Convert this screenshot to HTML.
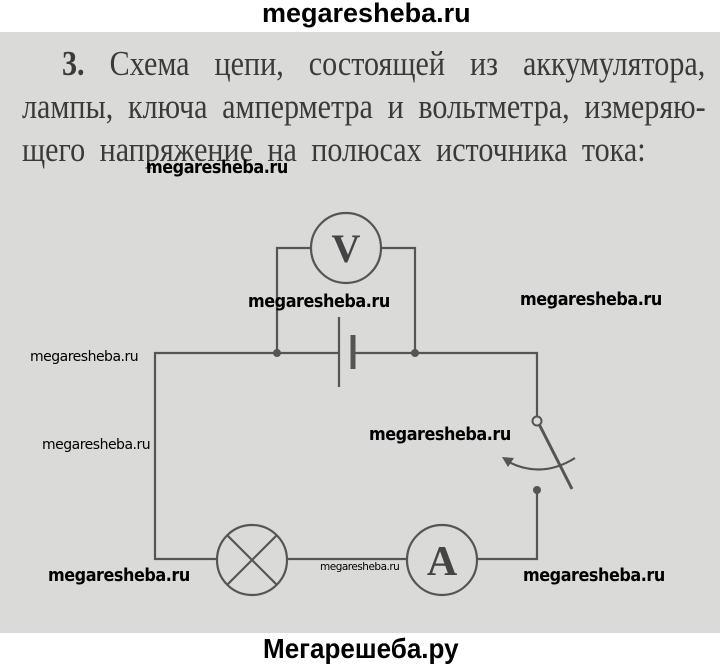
<!DOCTYPE html>
<html><head><meta charset="utf-8"><style>
body{margin:0;width:720px;height:666px;background:#fff;position:relative;overflow:hidden;font-family:"Liberation Sans",sans-serif}
.g{position:absolute;left:0;top:32px;width:720px;height:601px;background:#dadad8}
.t{position:absolute;left:0;top:0;width:720px;height:666px}
.w{position:absolute;font-family:"DejaVu Sans",sans-serif;font-weight:bold;color:#000;white-space:nowrap;letter-spacing:-0.5px;transform-origin:0 0}
.b{font-size:18px;transform:scaleX(0.89)}
.ln{position:absolute;font-family:"Liberation Serif",serif;font-size:35px;color:#3a3a3a;white-space:nowrap;transform-origin:0 0;transform:scaleX(0.86)}
.j{text-align:justify;text-align-last:justify;white-space:normal}
</style></head><body>
<div class="g"></div>
<div style="position:absolute;left:262px;top:-2px;font:bold 27px 'Liberation Sans',sans-serif;white-space:nowrap">megaresheba.ru</div>
<div class="ln j" style="left:62px;top:44px;width:748px"><b>3.</b> Схема цепи, состоящей из аккумулятора,</div>
<div class="ln j" style="left:22px;top:87px;width:795px">лампы, ключа амперметра и вольтметра, измеряю-</div>
<div class="ln" style="left:22px;top:130px;word-spacing:8px">щего напряжение на полюсах источника тока:</div>
<svg class="t" viewBox="0 0 720 666">
<g stroke="#555" stroke-width="2.2" fill="none">
<polyline points="339,353 155,353 155,559 217,559"/>
<line x1="287" y1="559" x2="407" y2="559"/>
<polyline points="477,559 537,559 537,490"/>
<polyline points="353,353 537,353 537,417"/>
<polyline points="277,353 277,248 311,248"/>
<polyline points="415,353 415,248 381,248"/>
<circle cx="346" cy="248" r="35"/>
<circle cx="252" cy="560" r="35"/>
<circle cx="442" cy="560" r="35"/>
<line x1="227" y1="535" x2="277" y2="585"/><line x1="277" y1="535" x2="227" y2="585"/>
<line x1="339" y1="317" x2="339" y2="387"/>
<line x1="353" y1="335" x2="353" y2="369" stroke-width="5"/>
<line x1="539" y1="424" x2="572" y2="489" stroke-width="3"/>
<path d="M575,458 Q540,480 505,460"/>
</g>
<circle cx="537" cy="421" r="4.5" fill="#dadad8" stroke="#555" stroke-width="2"/>
<circle cx="277" cy="353" r="4" fill="#555"/><circle cx="415" cy="353" r="4" fill="#555"/>
<circle cx="537" cy="490" r="4" fill="#555"/>
<path d="M502,457 L514,458 L508,467 Z" fill="#555"/>
<g font-family="Liberation Serif,serif" font-weight="bold" fill="#444" text-anchor="middle">
<text x="346" y="262" font-size="40">V</text>
<text x="442" y="575" font-size="42">A</text>
</g>
</svg>
<div class="w b" style="left:146px;top:157px">megaresheba.ru</div>
<div class="w b" style="left:248px;top:291px">megaresheba.ru</div>
<div class="w b" style="left:520px;top:289px">megaresheba.ru</div>
<div class="w b" style="left:369px;top:424px">megaresheba.ru</div>
<div class="w b" style="left:48px;top:565px">megaresheba.ru</div>
<div class="w b" style="left:523px;top:565px">megaresheba.ru</div>
<div class="w" style="left:30px;top:349px;font-size:14px;font-weight:normal">megaresheba.ru</div>
<div class="w" style="left:42px;top:437px;font-size:14px;font-weight:normal">megaresheba.ru</div>
<div class="w" style="left:320px;top:561px;font-size:10.5px;font-weight:normal">megaresheba.ru</div>
<div style="position:absolute;left:263px;top:633px;font:bold 28px 'Liberation Sans',sans-serif;transform:scaleX(0.93);transform-origin:0 0;white-space:nowrap">Мегарешеба.ру</div>
</body></html>
